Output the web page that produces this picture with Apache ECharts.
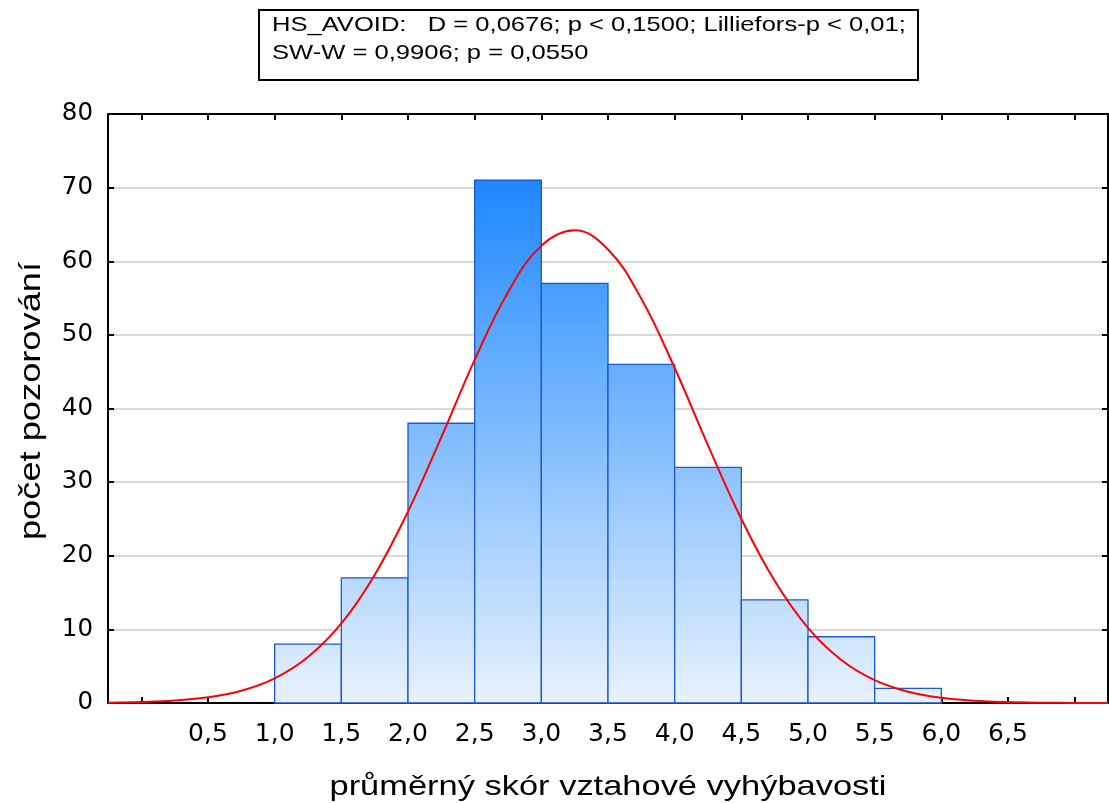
<!DOCTYPE html>
<html><head><meta charset="utf-8">
<script src="https://cdn.jsdelivr.net/npm/echarts@6/dist/echarts.min.js"></script>
<style>html,body{margin:0;padding:0;background:#fff}#c{width:1109px;height:803px}</style>
</head><body><div id="c"></div>
<script>
// Histogram bins (score ranges) and observed counts
const binStarts = [1.0, 1.5, 2.0, 2.5, 3.0, 3.5, 4.0, 4.5, 5.0, 5.5];
const binEnds   = [1.5, 2.0, 2.5, 3.0, 3.5, 4.0, 4.5, 5.0, 5.5, 6.0];
const counts    = [8, 17, 38, 71, 57, 46, 32, 14, 9, 2];
// Fitted normal curve
const curveX = [-0.25, 0, 0.25, 0.5, 0.75, 1.0, 1.25, 1.5, 1.75, 2.0, 2.25, 2.5, 2.75, 3.0, 3.25, 3.5, 3.75, 4.0, 4.25, 4.5, 4.75, 5.0, 5.25, 5.5, 5.75, 6.0, 6.25, 6.5, 6.75, 7.0, 7.25];
const curveY = [0.05, 0.13, 0.33, 0.77, 1.66, 3.34, 6.24, 10.8, 17.4, 26.0, 36.1, 46.6, 55.8, 62.1, 64.2, 61.6, 54.9, 45.5, 35.0, 25.0, 16.6, 10.2, 5.84, 3.1, 1.53, 0.70, 0.30, 0.12, 0.04, 0.015, 0.005];
// Axis ticks and labels
const xTickValues  = [0, 0.5, 1.0, 1.5, 2.0, 2.5, 3.0, 3.5, 4.0, 4.5, 5.0, 5.5, 6.0, 6.5, 7.0];
const xLabelValues = [0.5, 1.0, 1.5, 2.0, 2.5, 3.0, 3.5, 4.0, 4.5, 5.0, 5.5, 6.0, 6.5];
const titleLine1 = 'HS_AVOID:   D = 0,0676; p < 0,1500; Lilliefors-p < 0,01;';
const titleLine2 = 'SW-W = 0,9906; p = 0,0550';
const xTitle = 'průměrný skór vztahové vyhýbavosti';
const yTitle = 'počet pozorování';

const FONT = '"Liberation Sans", Arial, sans-serif';
const TICKFONT = '"DejaVu Sans", sans-serif';
const chart = echarts.init(document.getElementById('c'), null, {renderer: 'canvas'});
const barData = binStarts.map((s, i) => [s, binEnds[i], counts[i]]);
const curveData = curveX.map((x, i) => [x, curveY[i]]);
const fmt = v => v.toFixed(1).replace('.', ',');
const axisLineStyle = {color: '#000', width: 2};

const option = {
  animation: false,
  backgroundColor: '#fff',
  grid: {left: 108, right: 1, top: 114, bottom: 100, containLabel: false},
  xAxis: [
    {type: 'value', min: -0.25, max: 7.25, position: 'bottom',
     axisLine: {show: true, onZero: false, lineStyle: axisLineStyle},
     axisTick: {show: true, inside: true, length: 6, customValues: xTickValues, lineStyle: {color: '#000', width: 2}},
     axisLabel: {show: true, customValues: xLabelValues, formatter: fmt, fontSize: 25, color: '#000', fontFamily: TICKFONT, margin: 19},
     splitLine: {show: false}},
    {type: 'value', min: -0.25, max: 7.25, position: 'top',
     axisLine: {show: true, onZero: false, lineStyle: axisLineStyle},
     axisTick: {show: true, inside: true, length: 6, customValues: xTickValues, lineStyle: {color: '#000', width: 2}},
     axisLabel: {show: false}, splitLine: {show: false}}
  ],
  yAxis: [
    {type: 'value', min: 0, max: 80, interval: 10, position: 'left',
     axisLine: {show: true, onZero: false, lineStyle: axisLineStyle},
     axisTick: {show: true, inside: true, length: 6, lineStyle: {color: '#000', width: 2}},
     axisLabel: {fontSize: 24.5, color: '#000', fontFamily: TICKFONT, margin: 15, padding: [4, 0, 0, 0]},
     splitLine: {show: true, lineStyle: {color: '#d9d9d9', width: 2}}},
    {type: 'value', min: 0, max: 80, interval: 10, position: 'right',
     axisLine: {show: true, onZero: false, lineStyle: axisLineStyle},
     axisTick: {show: true, inside: true, length: 6, lineStyle: {color: '#000', width: 2}},
     axisLabel: {show: false}, splitLine: {show: false}}
  ],
  series: [
    {type: 'custom', xAxisIndex: 0, yAxisIndex: 0, data: barData, z: 2,
     encode: {x: [0, 1], y: 2},
     renderItem: function (params, api) {
       const p0 = api.coord([api.value(0), api.value(2)]);
       const p1 = api.coord([api.value(1), 0]);
       return {
         type: 'rect',
         shape: {x: p0[0], y: p0[1], width: p1[0] - p0[0], height: p1[1] - p0[1]},
         style: {
           fill: new echarts.graphic.LinearGradient(0, 181, 0, 703, [
             {offset: 0, color: '#1e88ff'},
             {offset: 1, color: '#e8f2fe'}
           ], true),
           stroke: '#1a58d4', lineWidth: 1.3
         }
       };
     }},
    {type: 'line', xAxisIndex: 0, yAxisIndex: 0, data: curveData, smooth: 0.4, showSymbol: false, z: 5,
     lineStyle: {color: '#ff0000', width: 2}}
  ],
  graphic: [
    {type: 'rect', left: 258, top: 9, z: 10,
     shape: {width: 659, height: 70}, style: {fill: '#fff', stroke: '#000', lineWidth: 2}},
    {type: 'text', x: 272, y: 25, scaleX: 1.217, z: 11,
     style: {text: titleLine1, x: 0, y: 0, fontSize: 21, fontFamily: FONT, fill: '#000', align: 'left', verticalAlign: 'middle'}},
    {type: 'text', x: 272, y: 53, scaleX: 1.217, z: 11,
     style: {text: titleLine2, x: 0, y: 0, fontSize: 21, fontFamily: FONT, fill: '#000', align: 'left', verticalAlign: 'middle'}},
    {type: 'text', x: 608, y: 787, scaleX: 1.23, z: 11,
     style: {text: xTitle, x: 0, y: 0, fontSize: 28, fontFamily: FONT, fill: '#000', align: 'center', verticalAlign: 'middle'}},
    {type: 'text', x: 32, y: 401, rotation: Math.PI / 2, scaleX: 1.25, z: 11,
     style: {text: yTitle, x: 0, y: 0, fontSize: 29, fontFamily: FONT, fill: '#000', align: 'center', verticalAlign: 'middle'}}
  ]
};
chart.setOption(option);
</script></body></html>
